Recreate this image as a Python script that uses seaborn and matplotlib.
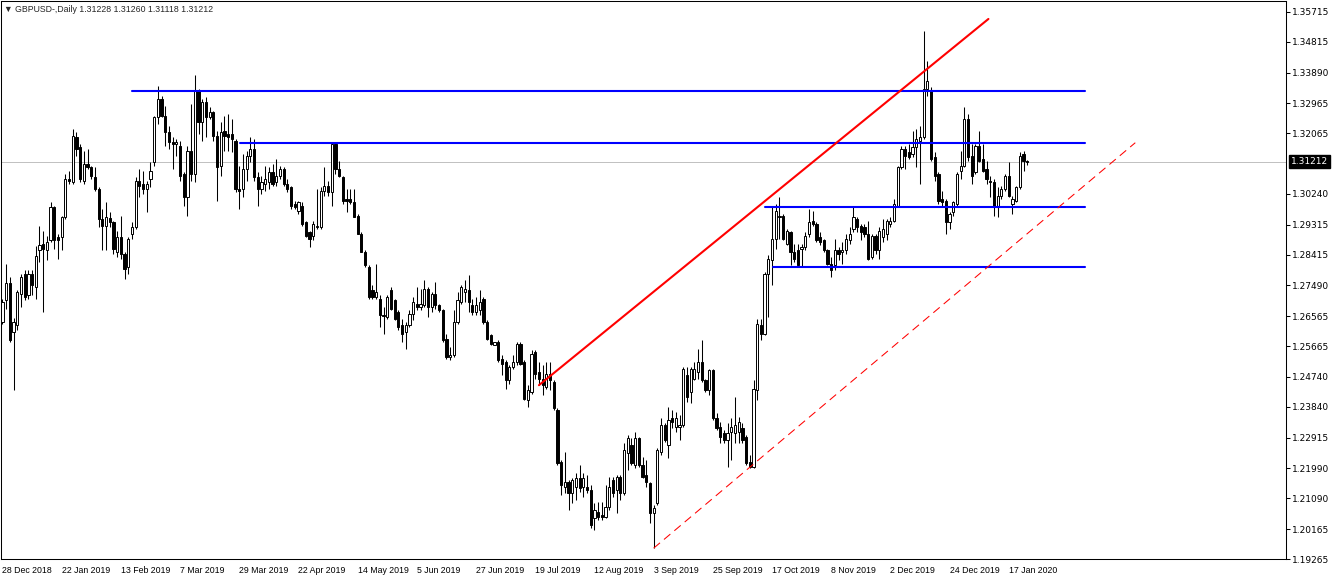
import seaborn as sns
import matplotlib.pyplot as plt
import numpy as np
import pandas as pd

# GBPUSD daily candles, 28 Dec 2018 .. 24 Jan 2020 (one value per trading day)
open_ = [
    1.2640, 1.2705, 1.2757, 1.2609, 1.2629, 1.2724, 1.2784, 1.2719, 1.2784, 1.2744,
    1.2854, 1.2872, 1.2854, 1.2884, 1.2984, 1.2894, 1.2894, 1.2954, 1.3069, 1.3059,
    1.3194, 1.3164, 1.3064, 1.3114, 1.3104, 1.3074, 1.3039, 1.2949, 1.2929, 1.2951,
    1.2939, 1.2849, 1.2894, 1.2844, 1.2804, 1.2904, 1.2924, 1.3064, 1.3054, 1.3039,
    1.3069, 1.3119, 1.3254, 1.3309, 1.3259, 1.3209, 1.3179, 1.3174, 1.3169, 1.3084,
    1.3014, 1.3154, 1.3084, 1.3334, 1.3239, 1.3299, 1.3254, 1.3269, 1.3199, 1.3109,
    1.3214, 1.3204, 1.3204, 1.3184, 1.3039, 1.3039, 1.3099, 1.3139, 1.3159, 1.3074,
    1.3039, 1.3054, 1.3059, 1.3089, 1.3059, 1.3079, 1.3099, 1.3054, 1.3044, 1.2994,
    1.2974, 1.2989, 1.2939, 1.2909, 1.2899, 1.2924, 1.2924, 1.3034, 1.3049, 1.3029,
    1.3174, 1.3099, 1.3074, 1.3009, 1.3009, 1.2999, 1.2959, 1.2904, 1.2849, 1.2804,
    1.2734, 1.2714, 1.2709, 1.2659, 1.2654, 1.2734, 1.2704, 1.2669, 1.2629, 1.2609,
    1.2629, 1.2664, 1.2694, 1.2684, 1.2689, 1.2739, 1.2684, 1.2724, 1.2689, 1.2674,
    1.2589, 1.2534, 1.2539, 1.2639, 1.2699, 1.2729, 1.2734, 1.2689, 1.2669, 1.2674,
    1.2709, 1.2639, 1.2599, 1.2571, 1.2579, 1.2529, 1.2519, 1.2464, 1.2504, 1.2519,
    1.2574, 1.2519, 1.2404, 1.2429, 1.2549, 1.2489, 1.2469, 1.2444, 1.2484, 1.2459,
    1.2374, 1.2219, 1.2144, 1.2159, 1.2124, 1.2144, 1.2169, 1.2144, 1.2144, 1.2134,
    1.2049, 1.2069, 1.2059, 1.2054, 1.2084, 1.2164, 1.2134, 1.2174, 1.2124, 1.2244,
    1.2269, 1.2209, 1.2289, 1.2209, 1.2179, 1.2154, 1.2064, 1.2094, 1.2249, 1.2329,
    1.2269, 1.2349, 1.2324, 1.2324, 1.2329, 1.2479, 1.2429, 1.2469, 1.2489, 1.2519,
    1.2464, 1.2434, 1.2494, 1.2349, 1.2324, 1.2304, 1.2284, 1.2309, 1.2304, 1.2309,
    1.2319, 1.2294, 1.2219, 1.2204, 1.2434, 1.2629, 1.2604, 1.2784, 1.2824, 1.2889,
    1.2954, 1.2959, 1.2874, 1.2909, 1.2849, 1.2854, 1.2859, 1.2864, 1.2904, 1.2942,
    1.2934, 1.2894, 1.2884, 1.2854, 1.2814, 1.2809, 1.2854, 1.2849, 1.2854, 1.2884,
    1.2919, 1.2949, 1.2929, 1.2924, 1.2904, 1.2834, 1.2899, 1.2854, 1.2894, 1.2904,
    1.2934, 1.2944, 1.2989, 1.3104, 1.3159, 1.3149, 1.3144, 1.3164, 1.3184, 1.3194,
    1.3339, 1.3334, 1.3134, 1.3084, 1.3009, 1.3004, 1.2939, 1.2969, 1.2994, 1.3094,
    1.3109, 1.3249, 1.3139, 1.3089, 1.3169, 1.3129, 1.3099, 1.3064, 1.3059, 1.2989,
    1.3019, 1.3039, 1.3079, 1.2994, 1.3004, 1.3044, 1.3144, 1.31228,
]
high = [
    1.2709, 1.2814, 1.2774, 1.2650, 1.2734, 1.2784, 1.2794, 1.2794, 1.2794, 1.2866,
    1.2929, 1.2914, 1.2899, 1.2999, 1.2989, 1.2904, 1.2959, 1.3084, 1.3094, 1.3219,
    1.3209, 1.3174, 1.3154, 1.3159, 1.3109, 1.3104, 1.3044, 1.2979, 1.2999, 1.2969,
    1.2944, 1.2914, 1.2959, 1.2849, 1.2894, 1.2939, 1.3074, 1.3099, 1.3094, 1.3064,
    1.3119, 1.3259, 1.3349, 1.3319, 1.3289, 1.3229, 1.3194, 1.3189, 1.3184, 1.3089,
    1.3169, 1.3294, 1.3381, 1.3339, 1.3309, 1.3314, 1.3284, 1.3274, 1.3214, 1.3239,
    1.3259, 1.3264, 1.3249, 1.3189, 1.3109, 1.3144, 1.3154, 1.3194, 1.3189, 1.3089,
    1.3079, 1.3109, 1.3104, 1.3114, 1.3129, 1.3109, 1.3104, 1.3069, 1.3049, 1.3004,
    1.3004, 1.2999, 1.2944, 1.2914, 1.2944, 1.3039, 1.3044, 1.3104, 1.3064, 1.3176,
    1.3176, 1.3124, 1.3079, 1.3039, 1.3039, 1.3039, 1.2964, 1.2909, 1.2854, 1.2809,
    1.2749, 1.2814, 1.2719, 1.2684, 1.2719, 1.2744, 1.2709, 1.2674, 1.2649, 1.2639,
    1.2674, 1.2714, 1.2744, 1.2739, 1.2764, 1.2744, 1.2729, 1.2759, 1.2694, 1.2679,
    1.2604, 1.2564, 1.2674, 1.2729, 1.2749, 1.2764, 1.2779, 1.2709, 1.2714, 1.2734,
    1.2714, 1.2644, 1.2604, 1.2579, 1.2584, 1.2539, 1.2524, 1.2509, 1.2539, 1.2579,
    1.2579, 1.2524, 1.2449, 1.2554, 1.2554, 1.2519, 1.2509, 1.2519, 1.2519, 1.2464,
    1.2379, 1.2224, 1.2249, 1.2164, 1.2169, 1.2184, 1.2209, 1.2184, 1.2179, 1.2149,
    1.2094, 1.2099, 1.2099, 1.2149, 1.2174, 1.2174, 1.2179, 1.2179, 1.2274, 1.2299,
    1.2289, 1.2309, 1.2294, 1.2234, 1.2224, 1.2159, 1.2089, 1.2259, 1.2349, 1.2334,
    1.2384, 1.2374, 1.2369, 1.2359, 1.2504, 1.2504, 1.2504, 1.2519, 1.2559, 1.2584,
    1.2469, 1.2499, 1.2499, 1.2364, 1.2339, 1.2314, 1.2334, 1.2349, 1.2414, 1.2354,
    1.2334, 1.2299, 1.2239, 1.2464, 1.2649, 1.2649, 1.2789, 1.2839, 1.2984, 1.2994,
    1.3014, 1.2964, 1.2919, 1.2914, 1.2874, 1.2874, 1.2874, 1.2909, 1.2979, 1.2974,
    1.2939, 1.2909, 1.2889, 1.2859, 1.2834, 1.2889, 1.2864, 1.2879, 1.2904, 1.2924,
    1.2984, 1.2954, 1.2934, 1.2934, 1.2944, 1.2904, 1.2904, 1.2924, 1.2949, 1.2949,
    1.2954, 1.3009, 1.3109, 1.3169, 1.3169, 1.3174, 1.3214, 1.3219, 1.3229, 1.3514,
    1.3424, 1.3344, 1.3149, 1.3089, 1.3034, 1.3009, 1.2969, 1.3004, 1.3089, 1.3154,
    1.3284, 1.3264, 1.3174, 1.3174, 1.3214, 1.3174, 1.3124, 1.3079, 1.3069, 1.3044,
    1.3049, 1.3084, 1.3119, 1.3019, 1.3049, 1.3149, 1.3154, 1.31260,
]
low = [
    1.2634, 1.2679, 1.2579, 1.2434, 1.2614, 1.2684, 1.2704, 1.2709, 1.2719, 1.2709,
    1.2819, 1.2669, 1.2824, 1.2879, 1.2859, 1.2829, 1.2854, 1.2949, 1.3054, 1.3054,
    1.3139, 1.3059, 1.3054, 1.3099, 1.3069, 1.3034, 1.2924, 1.2854, 1.2854, 1.2924,
    1.2844, 1.2834, 1.2829, 1.2769, 1.2784, 1.2889, 1.2919, 1.3014, 1.3024, 1.2969,
    1.3044, 1.3109, 1.3234, 1.3254, 1.3169, 1.3159, 1.3099, 1.3139, 1.3064, 1.2989,
    1.2959, 1.3064, 1.3059, 1.3204, 1.3184, 1.3194, 1.3249, 1.3184, 1.3004, 1.3079,
    1.3154, 1.3154, 1.3149, 1.3029, 1.2979, 1.3014, 1.3064, 1.3119, 1.3064, 1.2989,
    1.3024, 1.3034, 1.3039, 1.3049, 1.3049, 1.3069, 1.3049, 1.3029, 1.2979, 1.2979,
    1.2964, 1.2929, 1.2894, 1.2864, 1.2884, 1.2919, 1.2919, 1.3019, 1.3019, 1.2989,
    1.3084, 1.3074, 1.2994, 1.2969, 1.2994, 1.2954, 1.2904, 1.2849, 1.2804, 1.2709,
    1.2709, 1.2709, 1.2624, 1.2604, 1.2649, 1.2674, 1.2644, 1.2614, 1.2579, 1.2559,
    1.2624, 1.2644, 1.2674, 1.2674, 1.2684, 1.2654, 1.2669, 1.2679, 1.2669, 1.2579,
    1.2529, 1.2524, 1.2534, 1.2634, 1.2694, 1.2699, 1.2669, 1.2659, 1.2659, 1.2659,
    1.2634, 1.2584, 1.2569, 1.2569, 1.2519, 1.2479, 1.2439, 1.2454, 1.2499, 1.2509,
    1.2509, 1.2404, 1.2384, 1.2424, 1.2469, 1.2449, 1.2419, 1.2439, 1.2434, 1.2374,
    1.2209, 1.2119, 1.2124, 1.2074, 1.2094, 1.2104, 1.2129, 1.2114, 1.2124, 1.2019,
    1.2014, 1.2044, 1.2044, 1.2049, 1.2074, 1.2114, 1.2064, 1.2104, 1.2119, 1.2194,
    1.2209, 1.2199, 1.2204, 1.2169, 1.2144, 1.2034, 1.1959, 1.2089, 1.2239, 1.2279,
    1.2229, 1.2319, 1.2309, 1.2284, 1.2324, 1.2399, 1.2394, 1.2464, 1.2469, 1.2459,
    1.2429, 1.2419, 1.2344, 1.2314, 1.2274, 1.2274, 1.2204, 1.2224, 1.2274, 1.2274,
    1.2274, 1.2209, 1.2199, 1.2199, 1.2404, 1.2584, 1.2599, 1.2654, 1.2749, 1.2859,
    1.2889, 1.2884, 1.2869, 1.2809, 1.2819, 1.2804, 1.2804, 1.2854, 1.2894, 1.2929,
    1.2879, 1.2869, 1.2849, 1.2809, 1.2774, 1.2794, 1.2824, 1.2814, 1.2844, 1.2874,
    1.2909, 1.2909, 1.2884, 1.2894, 1.2824, 1.2829, 1.2844, 1.2829, 1.2879, 1.2884,
    1.2924, 1.2939, 1.2984, 1.3099, 1.3099, 1.3129, 1.3134, 1.3104, 1.3054, 1.3189,
    1.3319, 1.3124, 1.3064, 1.2994, 1.2989, 1.2904, 1.2919, 1.2959, 1.2989, 1.3069,
    1.3104, 1.3124, 1.3054, 1.3084, 1.3119, 1.3089, 1.3054, 1.3014, 1.2959, 1.2954,
    1.3009, 1.3034, 1.3014, 1.2964, 1.2999, 1.3039, 1.3094, 1.31118,
]
close = [
    1.2699, 1.2757, 1.2584, 1.2639, 1.2729, 1.2774, 1.2714, 1.2784, 1.2749, 1.2837,
    1.2869, 1.2859, 1.2879, 1.2984, 1.2884, 1.2886, 1.2954, 1.3069, 1.3064, 1.3199,
    1.3159, 1.3069, 1.3114, 1.3104, 1.3079, 1.3039, 1.2949, 1.2929, 1.2954, 1.2939,
    1.2859, 1.2894, 1.2844, 1.2799, 1.2889, 1.2924, 1.3064, 1.3049, 1.3039, 1.3054,
    1.3094, 1.3254, 1.3309, 1.3259, 1.3209, 1.3179, 1.3174, 1.3179, 1.3079, 1.3014,
    1.3154, 1.3084, 1.3334, 1.3239, 1.3299, 1.3254, 1.3269, 1.3199, 1.3104, 1.3209,
    1.3199, 1.3194, 1.3189, 1.3039, 1.3034, 1.3099, 1.3139, 1.3159, 1.3074, 1.3039,
    1.3059, 1.3069, 1.3089, 1.3054, 1.3079, 1.3099, 1.3054, 1.3039, 1.2989, 1.2986,
    1.2999, 1.2934, 1.2899, 1.2889, 1.2934, 1.2929, 1.3034, 1.3049, 1.3029, 1.3174,
    1.3099, 1.3079, 1.3004, 1.3004, 1.2999, 1.2954, 1.2904, 1.2849, 1.2809, 1.2714,
    1.2714, 1.2729, 1.2659, 1.2656, 1.2714, 1.2679, 1.2649, 1.2624, 1.2604, 1.2629,
    1.2664, 1.2699, 1.2684, 1.2694, 1.2739, 1.2684, 1.2724, 1.2689, 1.2674, 1.2584,
    1.2534, 1.2539, 1.2639, 1.2704, 1.2744, 1.2739, 1.2699, 1.2669, 1.2689, 1.2699,
    1.2639, 1.2589, 1.2574, 1.2579, 1.2524, 1.2514, 1.2464, 1.2504, 1.2519, 1.2574,
    1.2514, 1.2409, 1.2434, 1.2544, 1.2484, 1.2469, 1.2449, 1.2484, 1.2464, 1.2379,
    1.2214, 1.2149, 1.2159, 1.2124, 1.2164, 1.2169, 1.2139, 1.2169, 1.2134, 1.2029,
    1.2074, 1.2054, 1.2054, 1.2084, 1.2144, 1.2124, 1.2174, 1.2124, 1.2254, 1.2289,
    1.2214, 1.2289, 1.2209, 1.2174, 1.2159, 1.2064, 1.2079, 1.2254, 1.2329, 1.2284,
    1.2344, 1.2339, 1.2349, 1.2329, 1.2499, 1.2414, 1.2499, 1.2499, 1.2519, 1.2464,
    1.2434, 1.2494, 1.2349, 1.2319, 1.2294, 1.2284, 1.2304, 1.2324, 1.2329, 1.2339,
    1.2284, 1.2214, 1.2204, 1.2439, 1.2634, 1.2604, 1.2784, 1.2829, 1.2889, 1.2974,
    1.2959, 1.2889, 1.2914, 1.2849, 1.2829, 1.2809, 1.2864, 1.2899, 1.2939, 1.2934,
    1.2884, 1.2879, 1.2854, 1.2814, 1.2794, 1.2854, 1.2844, 1.2854, 1.2889, 1.2904,
    1.2954, 1.2924, 1.2909, 1.2904, 1.2829, 1.2899, 1.2854, 1.2914, 1.2919, 1.2944,
    1.2944, 1.2994, 1.3104, 1.3159, 1.3139, 1.3134, 1.3164, 1.3189, 1.3194, 1.3339,
    1.3364, 1.3129, 1.3079, 1.3004, 1.2999, 1.2939, 1.2964, 1.2999, 1.3084, 1.3109,
    1.3249, 1.3134, 1.3079, 1.3169, 1.3124, 1.3094, 1.3069, 1.3059, 1.2989, 1.3019,
    1.3039, 1.3079, 1.3019, 1.3009, 1.3044, 1.3139, 1.3124, 1.31212,
]

date_labels = ["28 Dec 2018", "22 Jan 2019", "13 Feb 2019", "7 Mar 2019", "29 Mar 2019",
               "22 Apr 2019", "14 May 2019", "5 Jun 2019", "27 Jun 2019", "19 Jul 2019",
               "12 Aug 2019", "3 Sep 2019", "25 Sep 2019", "17 Oct 2019", "8 Nov 2019",
               "2 Dec 2019", "24 Dec 2019", "17 Jan 2020"]
price_labels = [1.35715, 1.34815, 1.33890, 1.32965, 1.32065, 1.30240, 1.29315, 1.28415,
                1.27490, 1.26565, 1.25665, 1.24740, 1.23840, 1.22915, 1.21990, 1.21090,
                1.20165, 1.19265]
last_price = 1.31212

# horizontal levels: (from bar, to bar, price)
levels = [(35.1, 292.7, 1.3334), (64.3, 292.7, 1.3178),
          (206.2, 292.7, 1.2986), (208.4, 292.7, 1.2803)]
# trend lines: (bar, price) -> (bar, price)
trend_solid = [(145.0, 1.2449), (266.5, 1.3550)]
trend_dashed = [(176.0, 1.1959), (306.2, 1.3178)]

df = pd.DataFrame({"open": open_, "high": high, "low": low, "close": close})
df["bar"] = np.arange(len(df))
df["up"] = df["close"] >= df["open"]

sns.set_style("white")
plt.rcParams["font.family"] = ["DejaVu Sans"]

fig = plt.figure(figsize=(13.32, 5.82), dpi=100)
ax = fig.add_axes([0.5 / 1332, 23 / 582, 1285 / 1332, 558 / 582])
ax.set_xlim(-0.54, 346.8)
ax.set_ylim(1.1927, 1.3604)

# current price line
ax.axhline(last_price, color="#c0c0c0", lw=0.7, zorder=1)

# candles
ax.vlines(df["bar"], df["low"], df["high"], color="black", lw=0.75, zorder=2)
body_lo = df[["open", "close"]].min(axis=1)
body_h = (df["close"] - df["open"]).abs().clip(lower=0.00004)
ax.bar(df["bar"], body_h, bottom=body_lo, width=0.6,
       color=np.where(df["up"], "white", "black"), edgecolor="black",
       linewidth=0.7, zorder=3)

for x0, x1, p in levels:
    ax.plot([x0, x1], [p, p], color="#0000ff", lw=1.5, zorder=4)
(sx0, sy0), (sx1, sy1) = trend_solid
ax.plot([sx0, sx1], [sy0, sy1], color="#ff0000", lw=1.5, zorder=4)
(dx0, dy0), (dx1, dy1) = trend_dashed
ax.plot([dx0, dx1], [dy0, dy1], color="#ff0000", lw=0.75, dashes=(8, 5), zorder=4)

# axes like the terminal window
for s in ax.spines.values():
    s.set_color("black")
    s.set_linewidth(0.75)
ax.yaxis.tick_right()
ax.set_yticks(price_labels)
ax.set_yticklabels([f"{p:.5f}" for p in price_labels])
ax.set_xticks(range(0, 16 * len(date_labels), 16))
ax.set_xticklabels(date_labels)
ax.tick_params(axis="both", direction="out", length=3, width=0.75, labelsize=6.5,
               colors="black", pad=2)
for t in ax.get_xticklabels():
    t.set_horizontalalignment("left")
    t.set_fontfamily(["Liberation Sans", "DejaVu Sans"])
    t.set_fontsize(6.3)

ax.annotate(f"{last_price:.5f}", xy=(1, last_price), xycoords=("axes fraction", "data"),
            xytext=(4, 0), textcoords="offset points", ha="left", va="center",
            color="white", fontsize=6.5,
            bbox=dict(boxstyle="square,pad=0.2", fc="black", ec="black"))

fig.text(4 / 1332, 1 - 10 / 582, "\u25bc GBPUSD-,Daily 1.31228 1.31260 1.31118 1.31212",
         fontsize=6.3, va="center", ha="left", family=["Liberation Sans", "DejaVu Sans"])

fig.savefig("out.png", dpi=100)
